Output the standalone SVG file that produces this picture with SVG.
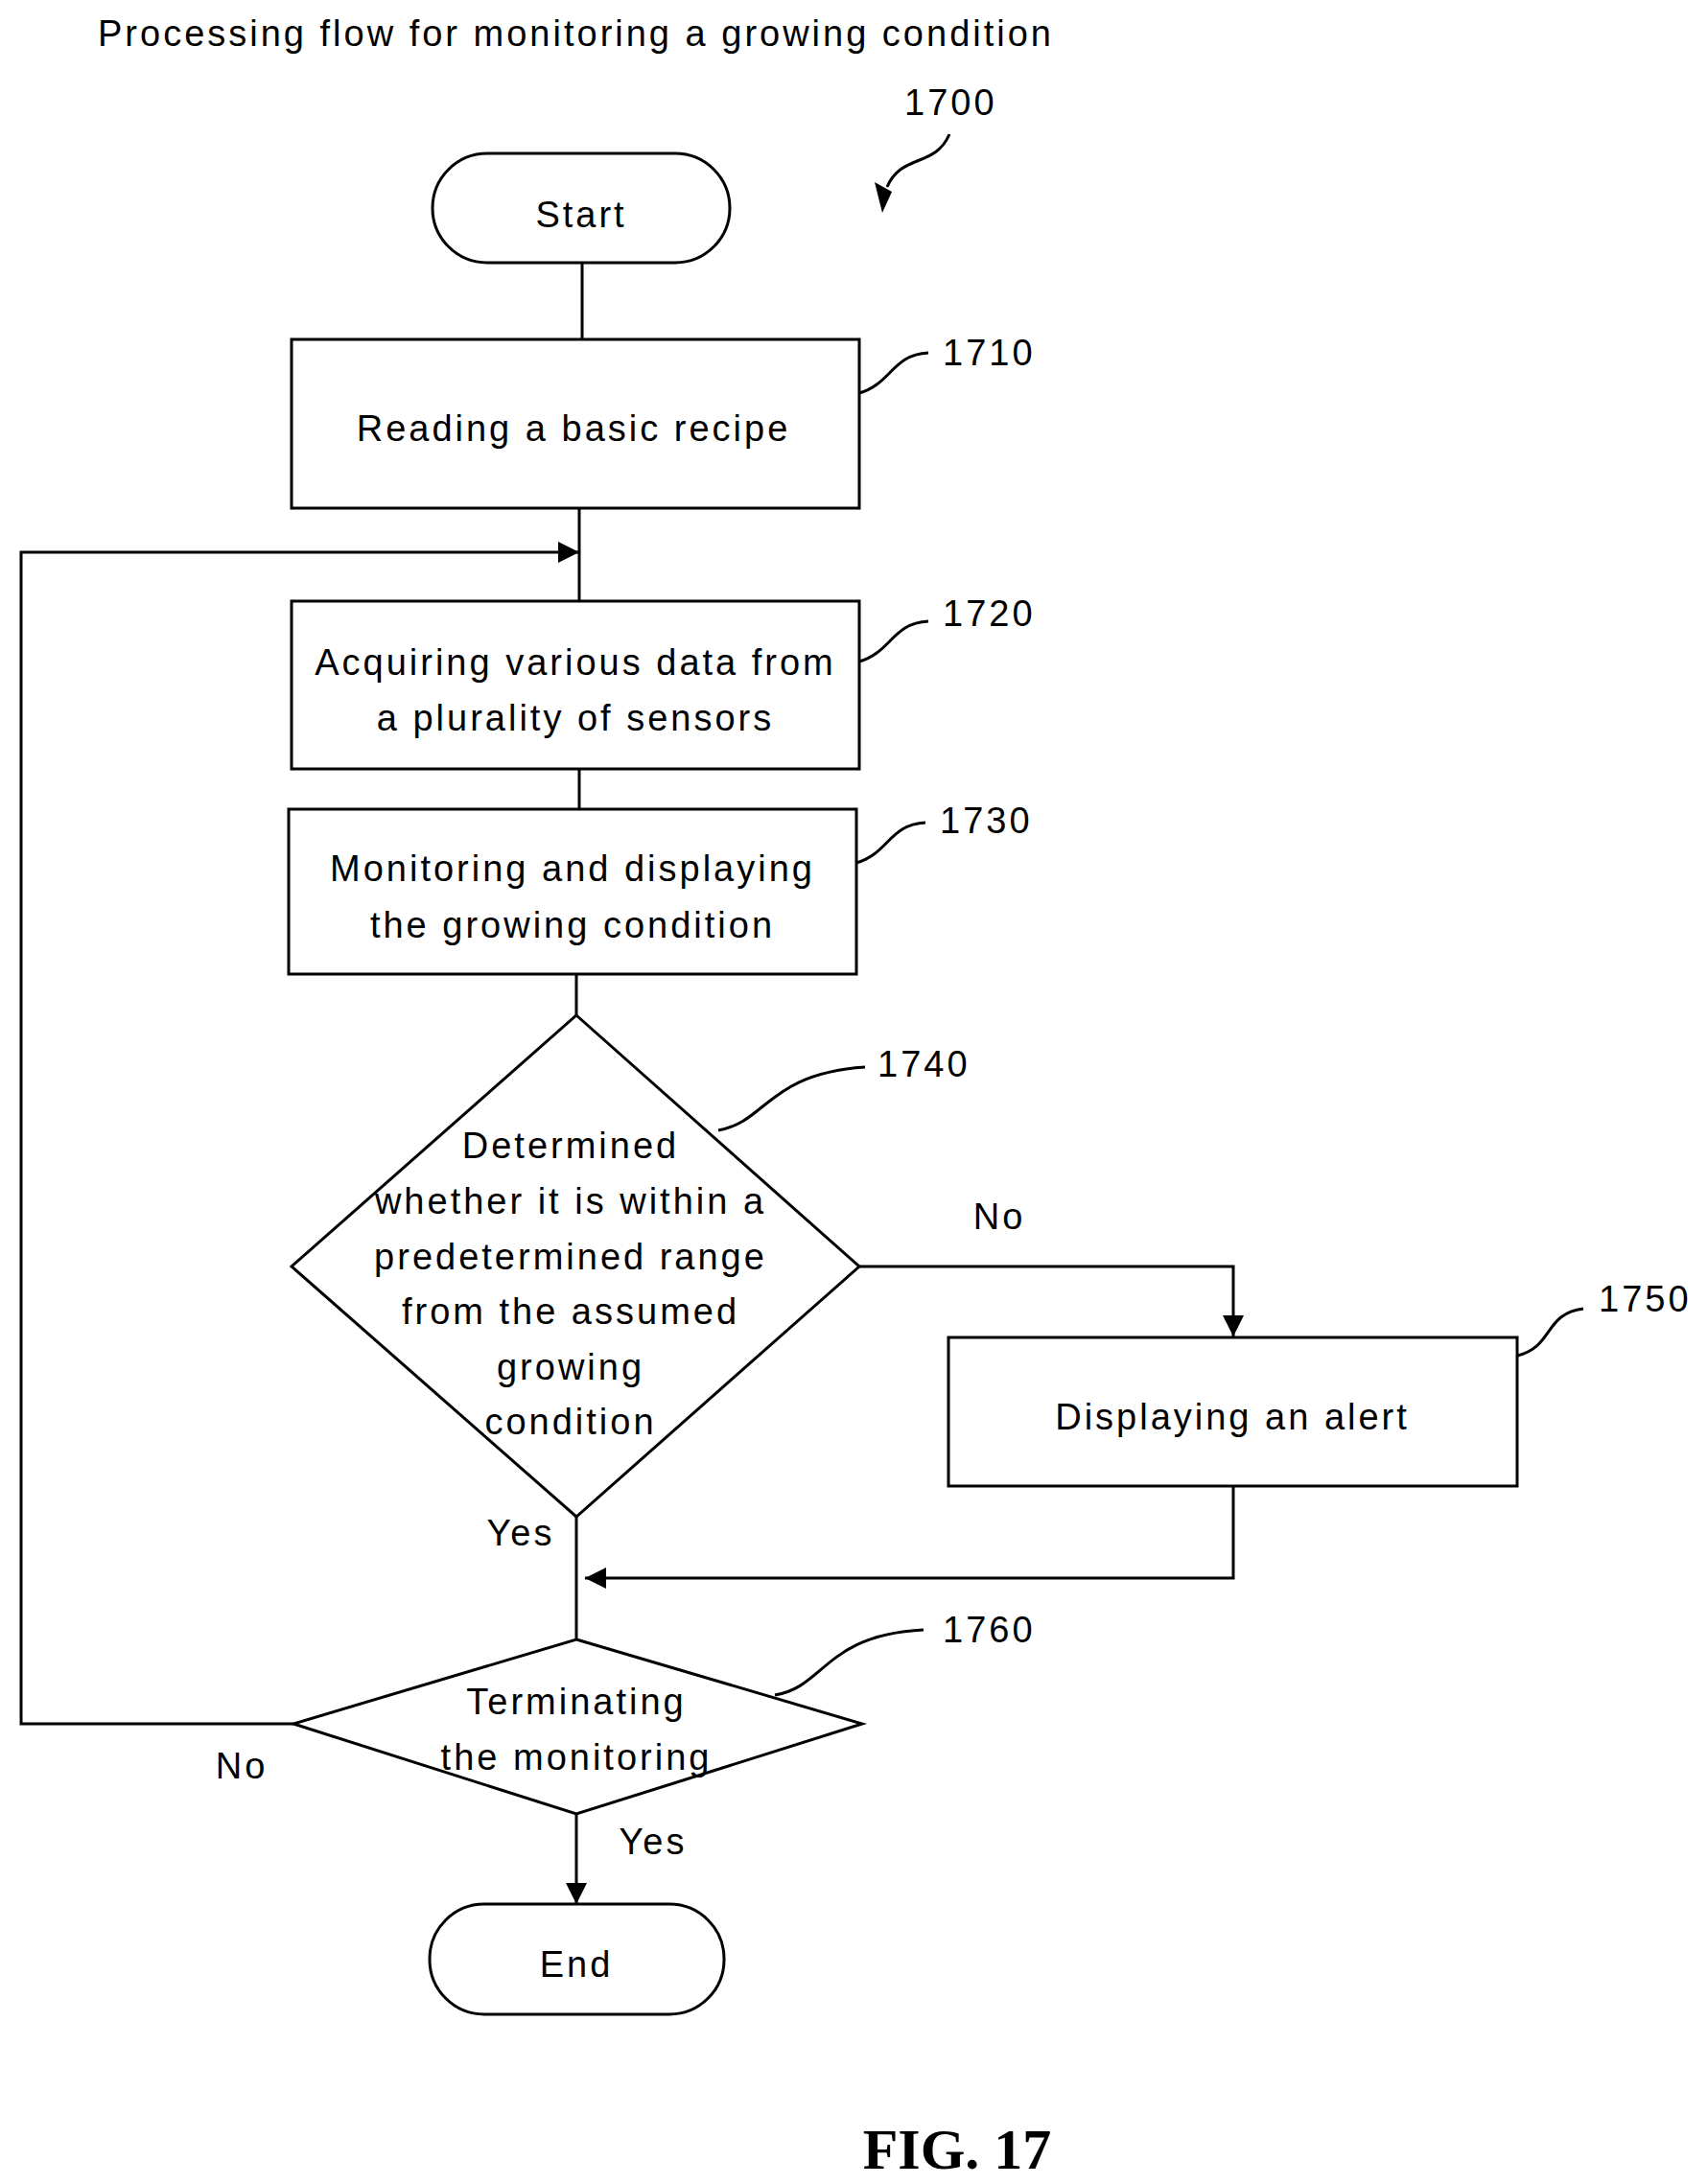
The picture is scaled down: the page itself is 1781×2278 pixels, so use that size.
<svg xmlns="http://www.w3.org/2000/svg" width="1781" height="2278" viewBox="0 0 1781 2278">
<style>
.s{fill:#fff;stroke:#000;stroke-width:3}
.l{fill:none;stroke:#000;stroke-width:3}
text{font-family:"Liberation Sans",Arial,sans-serif;font-size:38px;fill:#000;text-anchor:middle;letter-spacing:3px}
.n{text-anchor:start}
</style>
<defs>
<marker id="b" viewBox="0 0 10 10" refX="10" refY="5" markerWidth="22" markerHeight="22" markerUnits="userSpaceOnUse" orient="auto"><path d="M0,0L10,5L0,10z"/></marker></defs>
<text class="n" x="102" y="48">Processing flow for monitoring a growing condition</text>
<text class="n" x="943" y="120">1700</text>
<path class="l" d="M990,140 C975,175 940,160 925,195"/><path d="M912,190L930,200L920,222z"/>
<g id="connectors">
<path class="l" d="M607,274V354M604,530V627M604,802V844M601,1016V1059"/>
<path class="l" d="M896,1321H1286V1394" marker-end="url(#b)"/>
<path class="l" d="M1286,1550V1646H610" marker-end="url(#b)"/>
<path class="l" d="M601,1582V1710"/>
<path class="l" d="M306,1798H22V576H604" marker-end="url(#b)"/>
<path class="l" stroke-width="4" d="M601,1892V1986" marker-end="url(#b)"/>
<path class="l" d="M896,410C930,400 930,370 968,368M896,690C930,680 930,650 968,648M893,900C927,890 927,860 965,858M749,1179C800,1170 800,1120 902,1113M1582,1414C1620,1405 1610,1370 1651,1365M808,1768C860,1760 860,1705 963,1700"/>
<text x="1042" y="1282">No</text><text x="543" y="1612">Yes</text><text x="252" y="1855">No</text><text x="681" y="1934">Yes</text>
</g>
<g id="start"><rect class="s" x="451" y="160" width="310" height="114" rx="57"/><text x="606" y="237">Start</text></g>
<g id="n1710"><rect class="s" x="304" y="354" width="592" height="176"/><text x="598" y="460">Reading a basic recipe</text><text class="n" x="983" y="381">1710</text></g>
<g id="n1720"><rect class="s" x="304" y="627" width="592" height="175"/><text x="600" y="704">Acquiring various data from</text><text x="600" y="762">a plurality of sensors</text><text class="n" x="983" y="653">1720</text></g>
<g id="n1730"><rect class="s" x="301" y="844" width="592" height="172"/><text x="597" y="919">Monitoring and displaying</text><text x="597" y="978">the growing condition</text><text class="n" x="980" y="869">1730</text></g>
<g id="n1740"><path class="s" d="M601,1059L896,1321L601,1582L304,1321z"/><text x="595" y="1208">Determined</text><text x="595" y="1266">whether it is within a</text><text x="595" y="1324">predetermined range</text><text x="595" y="1381">from the assumed</text><text x="595" y="1439">growing</text><text x="595" y="1496">condition</text><text class="n" x="915" y="1123">1740</text></g>
<g id="n1750"><rect class="s" x="989" y="1395" width="593" height="155"/><text x="1285" y="1491">Displaying an alert</text><text class="n" x="1667" y="1368">1750</text></g>
<g id="n1760"><path class="s" d="M601,1710L899,1798L601,1892L306,1798z"/><text x="601" y="1788">Terminating</text><text x="601" y="1846">the monitoring</text><text class="n" x="983" y="1713">1760</text></g>
<g id="end"><rect class="s" x="448" y="1986" width="307" height="115" rx="57"/><text x="601" y="2062">End</text></g>
<text x="998" y="2262" style="font-family:'Liberation Serif',serif;font-weight:bold;font-size:60px;letter-spacing:0">FIG. 17</text>
</svg>
